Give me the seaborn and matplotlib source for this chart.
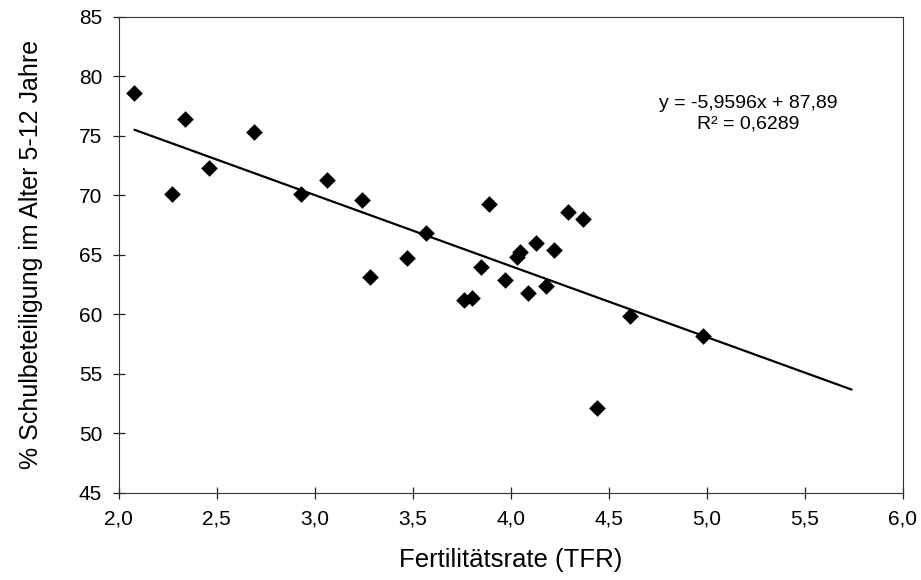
import numpy as np
import pandas as pd
import matplotlib
matplotlib.use("Agg")
import matplotlib.pyplot as plt
import seaborn as sns

# Fertilitätsrate vs. Schulbeteiligung
tfr = [2.08, 2.34, 2.69, 2.46, 2.27, 2.93, 3.06, 3.24, 3.57, 3.47, 3.28, 3.89, 4.29, 4.37,
       4.13, 4.22, 4.05, 4.03, 3.85, 3.97, 4.09, 4.18, 3.76, 3.80, 4.61, 4.98, 4.44]
schule = [78.6, 76.4, 75.3, 72.3, 70.1, 70.1, 71.3, 69.6, 66.8, 64.7, 63.1, 69.3, 68.6, 68.0,
          66.0, 65.4, 65.2, 64.8, 64.0, 62.9, 61.8, 62.4, 61.2, 61.4, 59.9, 58.2, 52.1]

# Trendlinie (Excel): y = -5,9596x + 87,89
slope = -5.9596
intercept = 87.89
trend_x = np.array([min(tfr), 5.74])

x_ticks = [2.0, 2.5, 3.0, 3.5, 4.0, 4.5, 5.0, 5.5, 6.0]
y_ticks = [45, 50, 55, 60, 65, 70, 75, 80, 85]

df = pd.DataFrame({"TFR": tfr, "Schule": schule})

sns.set_style("white", {"xtick.bottom": True, "ytick.left": True,
                        "text.color": "black", "xtick.color": "black",
                        "ytick.color": "black", "axes.labelcolor": "black"})
plt.rcParams["font.family"] = ["Liberation Sans", "DejaVu Sans"]

fig = plt.figure(figsize=(9.21, 5.8), dpi=100)
ax = fig.add_axes([0.129, 0.15, 0.851, 0.8215])

sns.scatterplot(data=df, x="TFR", y="Schule", marker="D", s=72, color="black",
                edgecolor="black", linewidth=0, ax=ax, zorder=3)
ax.plot(trend_x, slope * trend_x + intercept, color="black", lw=1.6, zorder=2)

ax.set_xlim(2.0, 6.0)
ax.set_ylim(45, 85)
ax.set_xticks(x_ticks)
ax.set_xticklabels([f"{t:.1f}".replace(".", ",") for t in x_ticks])
ax.set_yticks(y_ticks)
ax.set_yticklabels([str(t) for t in y_ticks])
ax.tick_params(axis="both", which="major", bottom=True, left=True,
               direction="inout", length=8, width=0.9, color="#222222",
               labelsize=15, pad=8, labelcolor="black")
for sp in ax.spines.values():
    sp.set_color("#333333")
    sp.set_linewidth(0.8)
    sp.set_visible(True)

ax.set_xlabel("Fertilitätsrate (TFR)", fontsize=18.5, labelpad=14)
ax.set_ylabel("% Schulbeteiligung im Alter 5-12 Jahre", fontsize=18, labelpad=26)

fig.text(748 / 921, 1 - 103 / 580, "y = -5,9596x + 87,89", fontsize=14,
         ha="center", va="center", color="black")
fig.text(748 / 921, 1 - 124 / 580, "R² = 0,6289", fontsize=14,
         ha="center", va="center", color="black")

fig.savefig("out.png", dpi=100)
